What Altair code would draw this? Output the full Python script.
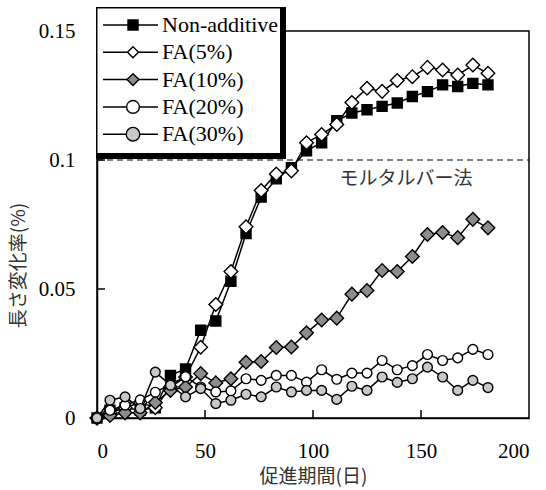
import altair as alt
import pandas as pd

# Measurement days (accelerated curing period)
days = [0, 6, 13, 20, 27, 34, 41, 48, 55, 62, 69, 76, 83, 90, 97, 104,
        111, 118, 125, 132, 139, 146, 153, 160, 167, 174, 181]

# Length change (%) for each mix
non_additive = [0, 0.003, 0.004, 0.003, 0.004, 0.0165, 0.019, 0.034, 0.0376,
                0.053, 0.0715, 0.0856, 0.0927, 0.097, 0.1036, 0.1067, 0.1152,
                0.1182, 0.1195, 0.1208, 0.1221, 0.1246, 0.1265, 0.1291,
                0.1285, 0.1297, 0.1291]
fa5 = [0, 0.002, 0.004, 0.006, 0.004, 0.012, 0.0159, 0.0274, 0.044, 0.0568,
       0.0741, 0.0882, 0.0946, 0.0958, 0.1067, 0.1099, 0.1138, 0.1223,
       0.1278, 0.1266, 0.1308, 0.1323, 0.1359, 0.1349, 0.1329, 0.1368, 0.1336]
fa10 = [0, 0.001, 0.002, 0.002, 0.006, 0.0107, 0.012, 0.0172, 0.0136, 0.0152,
        0.0216, 0.0219, 0.0273, 0.0275, 0.033, 0.038, 0.0387, 0.048, 0.0494,
        0.0572, 0.0568, 0.0626, 0.0711, 0.0719, 0.0699, 0.077, 0.0737]
fa20 = [0, 0.003, 0.005, 0.007, 0.010, 0.013, 0.016, 0.012, 0.0101, 0.0105,
        0.0152, 0.0146, 0.0165, 0.0165, 0.0139, 0.0187, 0.015, 0.0174, 0.0174,
        0.0223, 0.0187, 0.0203, 0.0246, 0.0223, 0.0233, 0.0266, 0.0246]
fa30 = [0, 0.0069, 0.0082, 0.0037, 0.0178, 0.0127, 0.0082, 0.0114, 0.0056,
        0.0069, 0.0092, 0.0082, 0.012, 0.0101, 0.0107, 0.0107, 0.0072, 0.0123,
        0.0107, 0.0159, 0.0138, 0.0152, 0.0197, 0.0159, 0.0107, 0.0146, 0.0118]

series_names = ["Non-additive", "FA(5%)", "FA(10%)", "FA(20%)", "FA(30%)"]
series_values = [non_additive, fa5, fa10, fa20, fa30]

# Mortar-bar method limit
limit_value = 0.1
limit_label = "モルタルバー法"

x_ticks = [0, 50, 100, 150, 200]
y_ticks = [0, 0.05, 0.1, 0.15]

# Marker styling per series
shapes = ["square", "diamond", "diamond", "circle", "circle"]
fills = ["#000000", "#ffffff", "#8c8c8c", "#ffffff", "#c8c8c8"]
sizes = [100, 185, 185, 95, 95]

SERIF = "Liberation Serif"
JP = "Noto Sans CJK JP"
W, H = 432, 387

x_scale = alt.Scale(domain=[0, 200], nice=False)
y_scale = alt.Scale(domain=[0, 0.15], nice=False)

x_axis = alt.Axis(values=x_ticks, grid=False, ticks=False, tickSize=0,
                  domainColor="black", domainWidth=1.5,
                  labelFont=SERIF, labelFontSize=21, labelColor="black",
                  labelPadding=33, labelBaseline="middle",
                  title="促進期間(日)", titleFont=JP, titleFontSize=19,
                  titleFontWeight="normal", titleColor="#333",
                  titleY=58, titleBaseline="middle")
y_axis = alt.Axis(values=y_ticks, format=".2~f", grid=False, ticks=False,
                  tickSize=0, domainColor="black", domainWidth=1.5,
                  labelFont=SERIF, labelFontSize=21, labelColor="black",
                  labelPadding=22, labelBaseline="middle",
                  title="長さ変化率(%)", titleFont=JP, titleFontSize=19,
                  titleFontWeight="normal", titleColor="#333",
                  titleAngle=270, titleX=-79, titleY=234,
                  titleAlign="center", titleBaseline="middle")

layers = []

# Dashed limit line (drawn first, sits beneath the legend box)
limit_df = pd.DataFrame({"x0": [x_ticks[0]], "x1": [x_ticks[-1]],
                         "v": [limit_value]})
layers.append(
    alt.Chart(limit_df).mark_rule(color="black", strokeWidth=1.2,
                                  strokeDash=[6, 4]).encode(
        x=alt.X("x0:Q", scale=x_scale, axis=x_axis),
        x2="x1:Q",
        y=alt.Y("v:Q", scale=y_scale, axis=y_axis),
    )
)

# Inward tick marks
xt_df = pd.DataFrame({"t": x_ticks[1:-1]})
layers.append(
    alt.Chart(xt_df).mark_rule(color="black", strokeWidth=1.5).encode(
        x=alt.X("t:Q", scale=x_scale, axis=x_axis),
        y=alt.value(H), y2=alt.value(H - 8),
    )
)
yt_df = pd.DataFrame({"t": y_ticks[1:]})
layers.append(
    alt.Chart(yt_df).mark_rule(color="black", strokeWidth=1.5).encode(
        y=alt.Y("t:Q", scale=y_scale, axis=y_axis),
        x=alt.value(0), x2=alt.value(8),
    )
)

# One line + marker layer per series, drawn in series order
for name, vals, shp, fc, sz in zip(series_names, series_values, shapes,
                                   fills, sizes):
    df = pd.DataFrame({"day": days, "value": vals})
    base = alt.Chart(df).encode(
        x=alt.X("day:Q", scale=x_scale, axis=x_axis),
        y=alt.Y("value:Q", scale=y_scale, axis=y_axis),
    )
    layers.append(base.mark_line(color="black", strokeWidth=1.5))
    layers.append(base.mark_point(shape=shp, filled=True, fill=fc,
                                  stroke="black", strokeWidth=1.4,
                                  size=sz, opacity=1))

# Limit label
label_df = pd.DataFrame({"x": [143], "v": [0.0926], "t": [limit_label]})
layers.append(
    alt.Chart(label_df).mark_text(font=JP, fontSize=19, color="#333",
                                  align="center", baseline="middle").encode(
        x=alt.X("x:Q", scale=x_scale, axis=x_axis),
        y=alt.Y("v:Q", scale=y_scale, axis=y_axis),
        text="t:N",
    )
)

# Legend box with heavy right/bottom edge
box_df = pd.DataFrame({"k": [0]})
layers.append(
    alt.Chart(box_df).mark_rect(color="black").encode(
        x=alt.value(-1), x2=alt.value(189),
        y=alt.value(-24), y2=alt.value(128),
    )
)
layers.append(
    alt.Chart(box_df).mark_rect(color="white").encode(
        x=alt.value(0.5), x2=alt.value(183),
        y=alt.value(-22.5), y2=alt.value(122),
    )
)

# Legend entries
legend_df = pd.DataFrame({"series": series_names,
                          "row": list(range(len(series_names)))})
leg = alt.Chart(legend_df).transform_calculate(ly="-6 + 27.3 * datum.row")
ly = alt.Y("ly:Q", scale=None, axis=None)
layers.append(
    leg.mark_rule(color="black", strokeWidth=1.5).encode(
        y=ly, x=alt.value(6), x2=alt.value(61))
)
layers.append(
    leg.mark_point(filled=True, stroke="black", strokeWidth=1.4,
                   opacity=1).encode(
        y=ly, x=alt.value(36),
        shape=alt.Shape("series:N", scale=alt.Scale(domain=series_names,
                                                    range=shapes),
                        legend=None),
        fill=alt.Fill("series:N", scale=alt.Scale(domain=series_names,
                                                  range=fills),
                      legend=None),
        size=alt.Size("series:N", scale=alt.Scale(domain=series_names,
                                                  range=sizes),
                      legend=None),
    )
)
layers.append(
    leg.mark_text(font=SERIF, fontSize=22, color="black", align="left",
                  baseline="middle").encode(
        y=ly, x=alt.value(65), text="series:N")
)

chart = alt.layer(*layers).properties(
    width=W, height=H, autosize="none",
    padding={"left": 97, "top": 31, "right": 17, "bottom": 72},
).configure_view(stroke="black", strokeWidth=1.5)

chart.save("out.html", embed_options={"renderer": "svg", "actions": False})
